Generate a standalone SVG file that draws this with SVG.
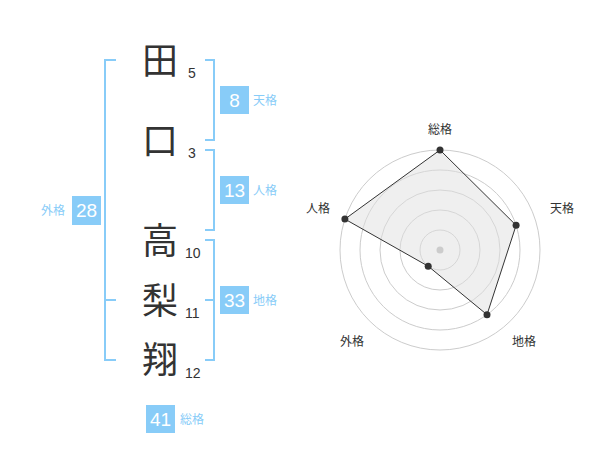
<svg xmlns="http://www.w3.org/2000/svg" width="600" height="470" viewBox="0 0 600 470">
<style>
.ch{font-family:"Noto Sans CJK JP","Noto Sans",sans-serif;font-size:36px;fill:#333;text-anchor:middle}
.num{font-family:"Liberation Sans",Arial,sans-serif;font-size:14px;fill:#333}
.br{fill:none;stroke:#88CCF8;stroke-width:2}
.box{fill:#88CCF8}
.bn{font-family:"Liberation Sans",Arial,sans-serif;font-size:19px;fill:#fff;text-anchor:middle}
.lb{font-family:"Noto Sans CJK JP",sans-serif;font-size:12px;fill:#88CCF8}
.ring{fill:none;stroke:#cccccc;stroke-width:1}
.rl{font-family:"Noto Sans CJK JP",sans-serif;font-size:12px;fill:#333;text-anchor:middle}
.pt{fill:#333}
</style>
<rect width="600" height="470" fill="#fff"/>
<g id="connectors">
<path class="br" d="M116,60 H105 V360 H116 M105,300 H116"/>
<path class="br" d="M205,60 H214 V140 H205"/>
<path class="br" d="M205,150 H214 V230 H205"/>
<path class="br" d="M205,240 H214 V360 H205 M205,300 H214"/>
</g>
<g id="char-ta"><text class="ch" x="160" y="74">田</text><text class="num" x="188" y="78">5</text></g>
<g id="char-kuchi"><text class="ch" x="160" y="154">口</text><text class="num" x="188" y="158">3</text></g>
<g id="char-taka"><text class="ch" x="160" y="254">高</text><text class="num" x="185" y="258">10</text></g>
<g id="char-nashi"><text class="ch" x="160" y="314">梨</text><text class="num" x="185" y="318">11</text></g>
<g id="char-sho"><text class="ch" x="160" y="373">翔</text><text class="num" x="185" y="378">12</text></g>
<g id="tenkaku"><rect class="box" x="220" y="86" width="29" height="28"/><text class="bn" x="234.5" y="107">8</text><text class="lb" x="253" y="105">天格</text></g>
<g id="jinkaku"><rect class="box" x="220" y="176" width="29" height="28"/><text class="bn" x="234.5" y="197">13</text><text class="lb" x="253" y="195">人格</text></g>
<g id="chikaku"><rect class="box" x="220" y="286" width="29" height="28"/><text class="bn" x="234.5" y="307">33</text><text class="lb" x="253" y="305">地格</text></g>
<g id="gaikaku"><rect class="box" x="72" y="196" width="29" height="29"/><text class="bn" x="86.5" y="217">28</text><text class="lb" x="41" y="215">外格</text></g>
<g id="soukaku"><rect class="box" x="146" y="405" width="29" height="28"/><text class="bn" x="160.5" y="426">41</text><text class="lb" x="180" y="424">総格</text></g>
<g id="radar">
<circle class="ring" cx="440" cy="250" r="100"/>
<circle class="ring" cx="440" cy="250" r="80"/>
<circle class="ring" cx="440" cy="250" r="60"/>
<circle class="ring" cx="440" cy="250" r="40"/>
<circle class="ring" cx="440" cy="250" r="20"/>
<polygon points="440,150 516.1,225.3 487,314.7 428.2,266.2 344.9,219.1" fill="#e0e0e0" fill-opacity="0.5" stroke="#333" stroke-width="1"/>
<circle cx="440" cy="250" r="3.5" fill="#cccccc"/>
<circle class="pt" cx="440" cy="150" r="3.5"/>
<circle class="pt" cx="516.1" cy="225.3" r="3.5"/>
<circle class="pt" cx="487" cy="314.7" r="3.5"/>
<circle class="pt" cx="428.2" cy="266.2" r="3.5"/>
<circle class="pt" cx="344.9" cy="219.1" r="3.5"/>
<text class="rl" x="440" y="134">総格</text>
<text class="rl" x="562" y="213">天格</text>
<text class="rl" x="524" y="346">地格</text>
<text class="rl" x="352" y="346">外格</text>
<text class="rl" x="318" y="213">人格</text>
</g>
</svg>
